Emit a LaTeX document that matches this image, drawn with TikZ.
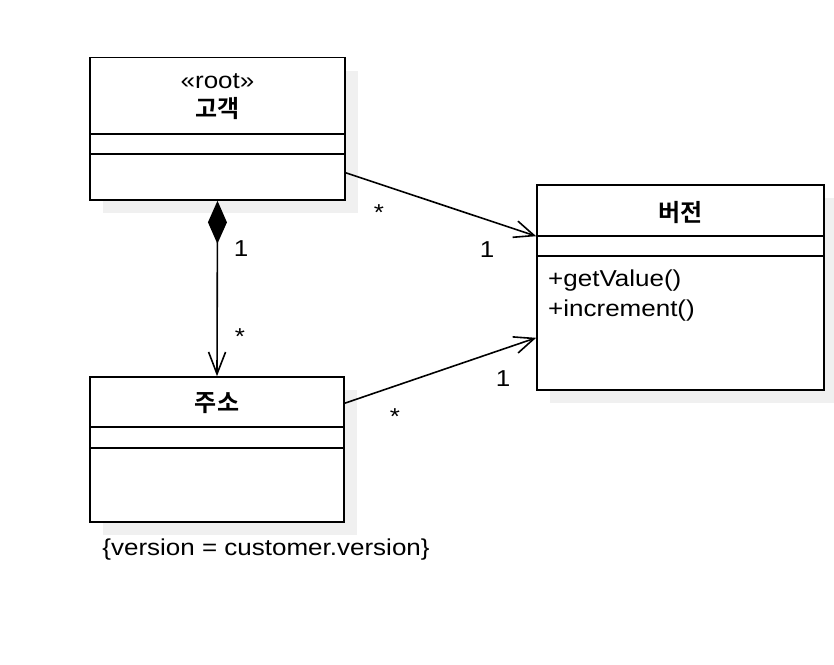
\documentclass[tikz,border=0pt]{standalone}
\usepackage{fontspec}
\setmainfont{Liberation Sans}[FakeStretch=1.13]
\newfontfamily\krfont{Noto Sans CJK KR Bold}
\usetikzlibrary{arrows.meta,shadows}
\tikzset{
  umlbox/.style={draw, line width=1.6pt, fill=white, inner sep=0pt,
    drop shadow={shadow xshift=13pt, shadow yshift=-13pt, fill=black!6, opacity=1}},
  divider/.style={line width=1.6pt},
  txt/.style={inner sep=0pt, anchor=base, font=\fontsize{23pt}{27pt}\selectfont},
  ktxt/.style={inner sep=0pt, anchor=base, font=\fontsize{24pt}{28pt}\krfont},
  ltxt/.style={txt, anchor=base west},
  conn/.style={line width=1.6pt},
}
\begin{document}
\begin{tikzpicture}[x=1pt,y=-1pt]
\useasboundingbox (0,0) rectangle (834,664);
% boxes
\node[umlbox, minimum width=255pt, minimum height=142.5pt] (cust) at (217.5,128.75) {};
\node[umlbox, minimum width=287pt, minimum height=205pt] (ver) at (680.5,287.5) {};
\node[umlbox, minimum width=254pt, minimum height=145pt] (addr) at (217,449.5) {};
% dividers
\draw[divider] (90,134) -- (345,134);
\draw[divider] (90,154) -- (345,154);
\draw[divider] (537,236) -- (824,236);
\draw[divider] (537,256) -- (824,256);
\draw[divider] (90,427) -- (344,427);
\draw[divider] (90,448) -- (344,448);
% texts
\node[txt] (stereo) at (217.5,88) {«root»};
\node[ktxt] (custname) at (217.5,117) {고객};
\node[ktxt] (vername) at (680.5,221) {버전};
\node[ltxt] (m1) at (548,286) {+getValue()};
\node[ltxt] (m2) at (548,316) {+increment()};
\node[ktxt] (addrname) at (217,411) {주소};
\node[txt] (constr) at (266,555) {\{version = customer.version\}};
% connectors
\coordinate (cs) at ([yshift=28pt]cust.south east);
\coordinate (ve1) at ([yshift=-52pt]ver.north west);
\coordinate (as) at ([yshift=-27pt]addr.north east);
\coordinate (ve2) at ([yshift=53pt]ver.south west);
\draw[conn, -{Straight Barb[length=20pt,width=17pt,line width=1.6pt]}] (cs) -- (ve1);
\draw[conn, -{Straight Barb[length=20pt,width=17pt,line width=1.6pt]}] (as) -- (ve2);
\draw[conn, {Diamond[length=43pt,width=19pt]}-{Straight Barb[length=22pt,width=17pt,line width=1.6pt]}] (cust.south) -- (addr.north);
% multiplicities
\node[txt] (m-cs) at (379,220) {*};
\node[txt] (m-ve1) at (487,257) {1};
\node[txt] (m-as) at (395,424) {*};
\node[txt] (m-ve2) at (503,386) {1};
\node[txt] (m-d1) at (241,256) {1};
\node[txt] (m-d2) at (240,344) {*};
\end{tikzpicture}
\end{document}
